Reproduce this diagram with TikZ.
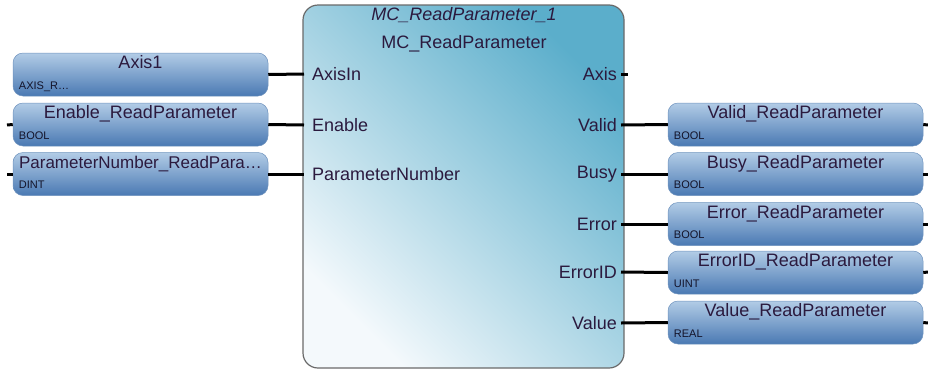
\documentclass[tikz,border=0pt]{standalone}
\usepackage{fontspec}
\setmainfont{Liberation Sans}
\usepackage{tikz}
\usetikzlibrary{positioning,calc}
\definecolor{ink}     {HTML}{2B1A3E}
\definecolor{typeink} {HTML}{14142A}
\definecolor{rim}     {HTML}{6A6A6A}
\definecolor{fbdark}  {HTML}{5BAECB}
\definecolor{fblight} {HTML}{F4F9FC}
\definecolor{vtop}    {HTML}{B2CCE6}
\definecolor{vbot}    {HTML}{4A79B3}
\definecolor{vrim}    {HTML}{6F93BE}
\tikzset{
  every node/.style={font=\fontsize{18}{21}\selectfont, text=ink},
  % --- nodes
  fblock/.style = {rounded corners=15pt, draw=rim, line width=1.2pt,
                   top color=fbdark, bottom color=fblight, shading angle=-45,
                   minimum width=321pt, minimum height=363pt, inner sep=0pt},
  varbox/.style = {rounded corners=10pt, draw=vrim, line width=0.5pt,
                   top color=vtop, bottom color=vbot,
                   minimum width=255pt, inner xsep=0pt, inner ysep=4.5pt,
                   text height=11pt, text depth=23pt},
  vtype/.style  = {font=\fontsize{11}{12}\selectfont, text=typeink, inner sep=0pt,
                   anchor=base west},
  pinin/.style  = {anchor=west, inner xsep=8pt, inner ysep=2pt},
  pinout/.style = {anchor=east, inner xsep=4pt, inner ysep=2pt},
  % --- edges
  wire/.style   = {line width=3pt, draw=black},
}
\begin{document}
\begin{tikzpicture}[x=1pt, y=-1pt]
  \useasboundingbox (0,0) rectangle (928,370);
  % function block
  \node[fblock] (fb) at (463.5,186.5) {};
  \node (fbInst) at (464,15) {\itshape MC\_ReadParameter\_1};
  \node (fbType) at (464,44) {MC\_ReadParameter};
  % inputs
  \node[pinin] (pAxisIn) at (304,74)  {AxisIn};
  \node[pinin] (pEnable) at (304,125) {Enable};
  \node[pinin] (pParam)  at (304,174) {ParameterNumber};
  % outputs
  \node[pinout] (pAxis)    at (621,74)  {Axis};
  \node[pinout] (pValid)   at (621,125) {Valid};
  \node[pinout] (pBusy)    at (621,174) {Busy};
  \node[pinout] (pError)   at (621,224) {Error};
  \node[pinout] (pErrorID) at (621,272) {ErrorID};
  \node[pinout] (pValue)   at (621,323) {Value};
  % input variables
  \node[varbox] (vAxis)   at (140.5,74.5)  {Axis1};
  \node[varbox] (vEnable) at (140.5,124.5) {Enable\_ReadParameter};
  \node[varbox, font=\fontsize{17}{20}\selectfont] (vParam) at (140.5,174)
    {ParameterNumber\_ReadPara\ldots};
  \node[vtype] (tAxis)   at ([xshift=6pt,yshift=7pt]vAxis.south west)   {AXIS\_R\ldots};
  \node[vtype] (tEnable) at ([xshift=6pt,yshift=7pt]vEnable.south west) {BOOL};
  \node[vtype] (tParam)  at ([xshift=6pt,yshift=7pt]vParam.south west)  {DINT};
  % output variables
  \node[varbox] (vValid)   at (795.5,124.5) {Valid\_ReadParameter};
  \node[varbox] (vBusy)    at (795.5,174)   {Busy\_ReadParameter};
  \node[varbox] (vError)   at (795.5,224)   {Error\_ReadParameter};
  \node[varbox] (vErrorID) at (795.5,272.5) {ErrorID\_ReadParameter};
  \node[varbox] (vValue)   at (795.5,322.5) {Value\_ReadParameter};
  \node[vtype] (tValid)   at ([xshift=6pt,yshift=7pt]vValid.south west)   {BOOL};
  \node[vtype] (tBusy)    at ([xshift=6pt,yshift=7pt]vBusy.south west)    {BOOL};
  \node[vtype] (tError)   at ([xshift=6pt,yshift=7pt]vError.south west)   {BOOL};
  \node[vtype] (tErrorID) at ([xshift=6pt,yshift=7pt]vErrorID.south west) {UINT};
  \node[vtype] (tValue)   at ([xshift=6pt,yshift=7pt]vValue.south west)   {REAL};
  % free pin ends
  \coordinate (sEnable) at (7,125);
  \coordinate (sParam)  at (7,174);
  \coordinate (sAxis)   at (628,74);
  \coordinate (sValid)   at (928,125);
  \coordinate (sBusy)    at (928,174);
  \coordinate (sError)   at (928,224);
  \coordinate (sErrorID) at (928,272);
  \coordinate (sValue)   at (928,323);
  % wires
  \draw[wire] (vAxis.east)--(pAxisIn.west); \draw[wire] (vEnable.east)--(pEnable.west);
  \draw[wire] (vParam.east)--(pParam.west);
  \draw[wire] (pValid.east)--(vValid.west); \draw[wire] (pBusy.east)--(vBusy.west);
  \draw[wire] (pError.east)--(vError.west); \draw[wire] (pErrorID.east)--(vErrorID.west);
  \draw[wire] (pValue.east)--(vValue.west);
  % stubs
  \draw[wire] (vEnable.west)--(sEnable); \draw[wire] (vParam.west)--(sParam);
  \draw[wire] (pAxis.east)--(sAxis);
  \draw[wire] (vValid.east)--(sValid); \draw[wire] (vBusy.east)--(sBusy);
  \draw[wire] (vError.east)--(sError); \draw[wire] (vErrorID.east)--(sErrorID);
  \draw[wire] (vValue.east)--(sValue);
\end{tikzpicture}
\end{document}
